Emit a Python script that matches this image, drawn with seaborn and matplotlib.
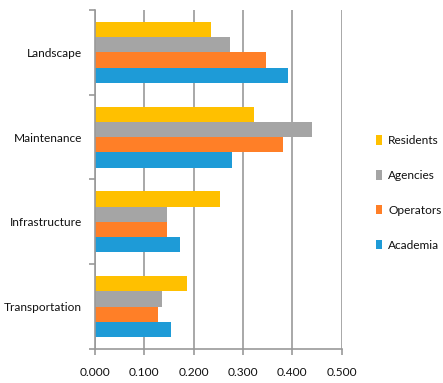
import matplotlib
matplotlib.use("Agg")
import matplotlib.pyplot as plt
from matplotlib.ticker import FormatStrFormatter, MultipleLocator, FixedLocator
import seaborn as sns
import pandas as pd

categories = ["Landscape", "Maintenance", "Infrastructure", "Transportation"]
groups = ["Residents", "Agencies", "Operators", "Academia"]
residents = [0.236, 0.322, 0.254, 0.186]
agencies = [0.274, 0.440, 0.146, 0.137]
operators = [0.346, 0.381, 0.146, 0.128]
academia = [0.392, 0.278, 0.173, 0.155]
colors = ["#FFC000", "#A5A5A5", "#FF7F27", "#1E9BD7"]

rows = []
for g, vals in zip(groups, [residents, agencies, operators, academia]):
    for c, v in zip(categories, vals):
        rows.append({"Category": c, "Group": g, "Value": v})
df = pd.DataFrame(rows)

sns.set_theme(style="white")
plt.rcParams["font.family"] = ["Lato", "DejaVu Sans"]

fig = plt.figure(figsize=(4.43, 3.83), dpi=100)
ax = fig.add_axes([0.2138, 0.0888, 0.7713 - 0.2138, 0.9739 - 0.0888])

sns.barplot(data=df, y="Category", x="Value", hue="Group", order=categories,
            hue_order=groups, palette=colors, orient="h", width=0.72,
            saturation=1, ax=ax, errorbar=None, linewidth=0)

ax.set_xlim(0, 0.5)
ax.set_ylim(3.5, -0.5)
ax.xaxis.set_major_locator(MultipleLocator(0.1))
ax.xaxis.set_major_formatter(FormatStrFormatter("%.3f"))
ax.grid(axis="x", color="#999999", linewidth=1.2)
ax.grid(axis="y", visible=False)
ax.set_axisbelow(True)
ax.set_xlabel("")
ax.set_ylabel("")

for s in ["top", "right"]:
    ax.spines[s].set_visible(False)
for s in ["left", "bottom"]:
    ax.spines[s].set_color("#999999")
    ax.spines[s].set_linewidth(1.2)

fs = 8.6
txt = "#111111"
ax.yaxis.set_minor_locator(FixedLocator([-0.5, 0.5, 1.5, 2.5, 3.5]))
ax.tick_params(axis="y", which="major", length=0, pad=9, labelsize=fs, labelcolor=txt)
ax.tick_params(axis="y", which="minor", left=True, length=4, color="#999999", width=1.2)
ax.tick_params(axis="x", which="major", bottom=True, length=4, color="#999999", width=1.2,
               labelsize=fs, labelcolor=txt, pad=9)

handles, labels = ax.get_legend_handles_labels()
ax.legend(handles, labels, loc="center left", bbox_to_anchor=(0.825, 0.496),
          bbox_transform=fig.transFigure, frameon=False, fontsize=fs,
          handlelength=0.5, handleheight=0.8, handletextpad=0.5,
          labelspacing=2.0, labelcolor=txt)

fig.savefig("out.png", dpi=100)
